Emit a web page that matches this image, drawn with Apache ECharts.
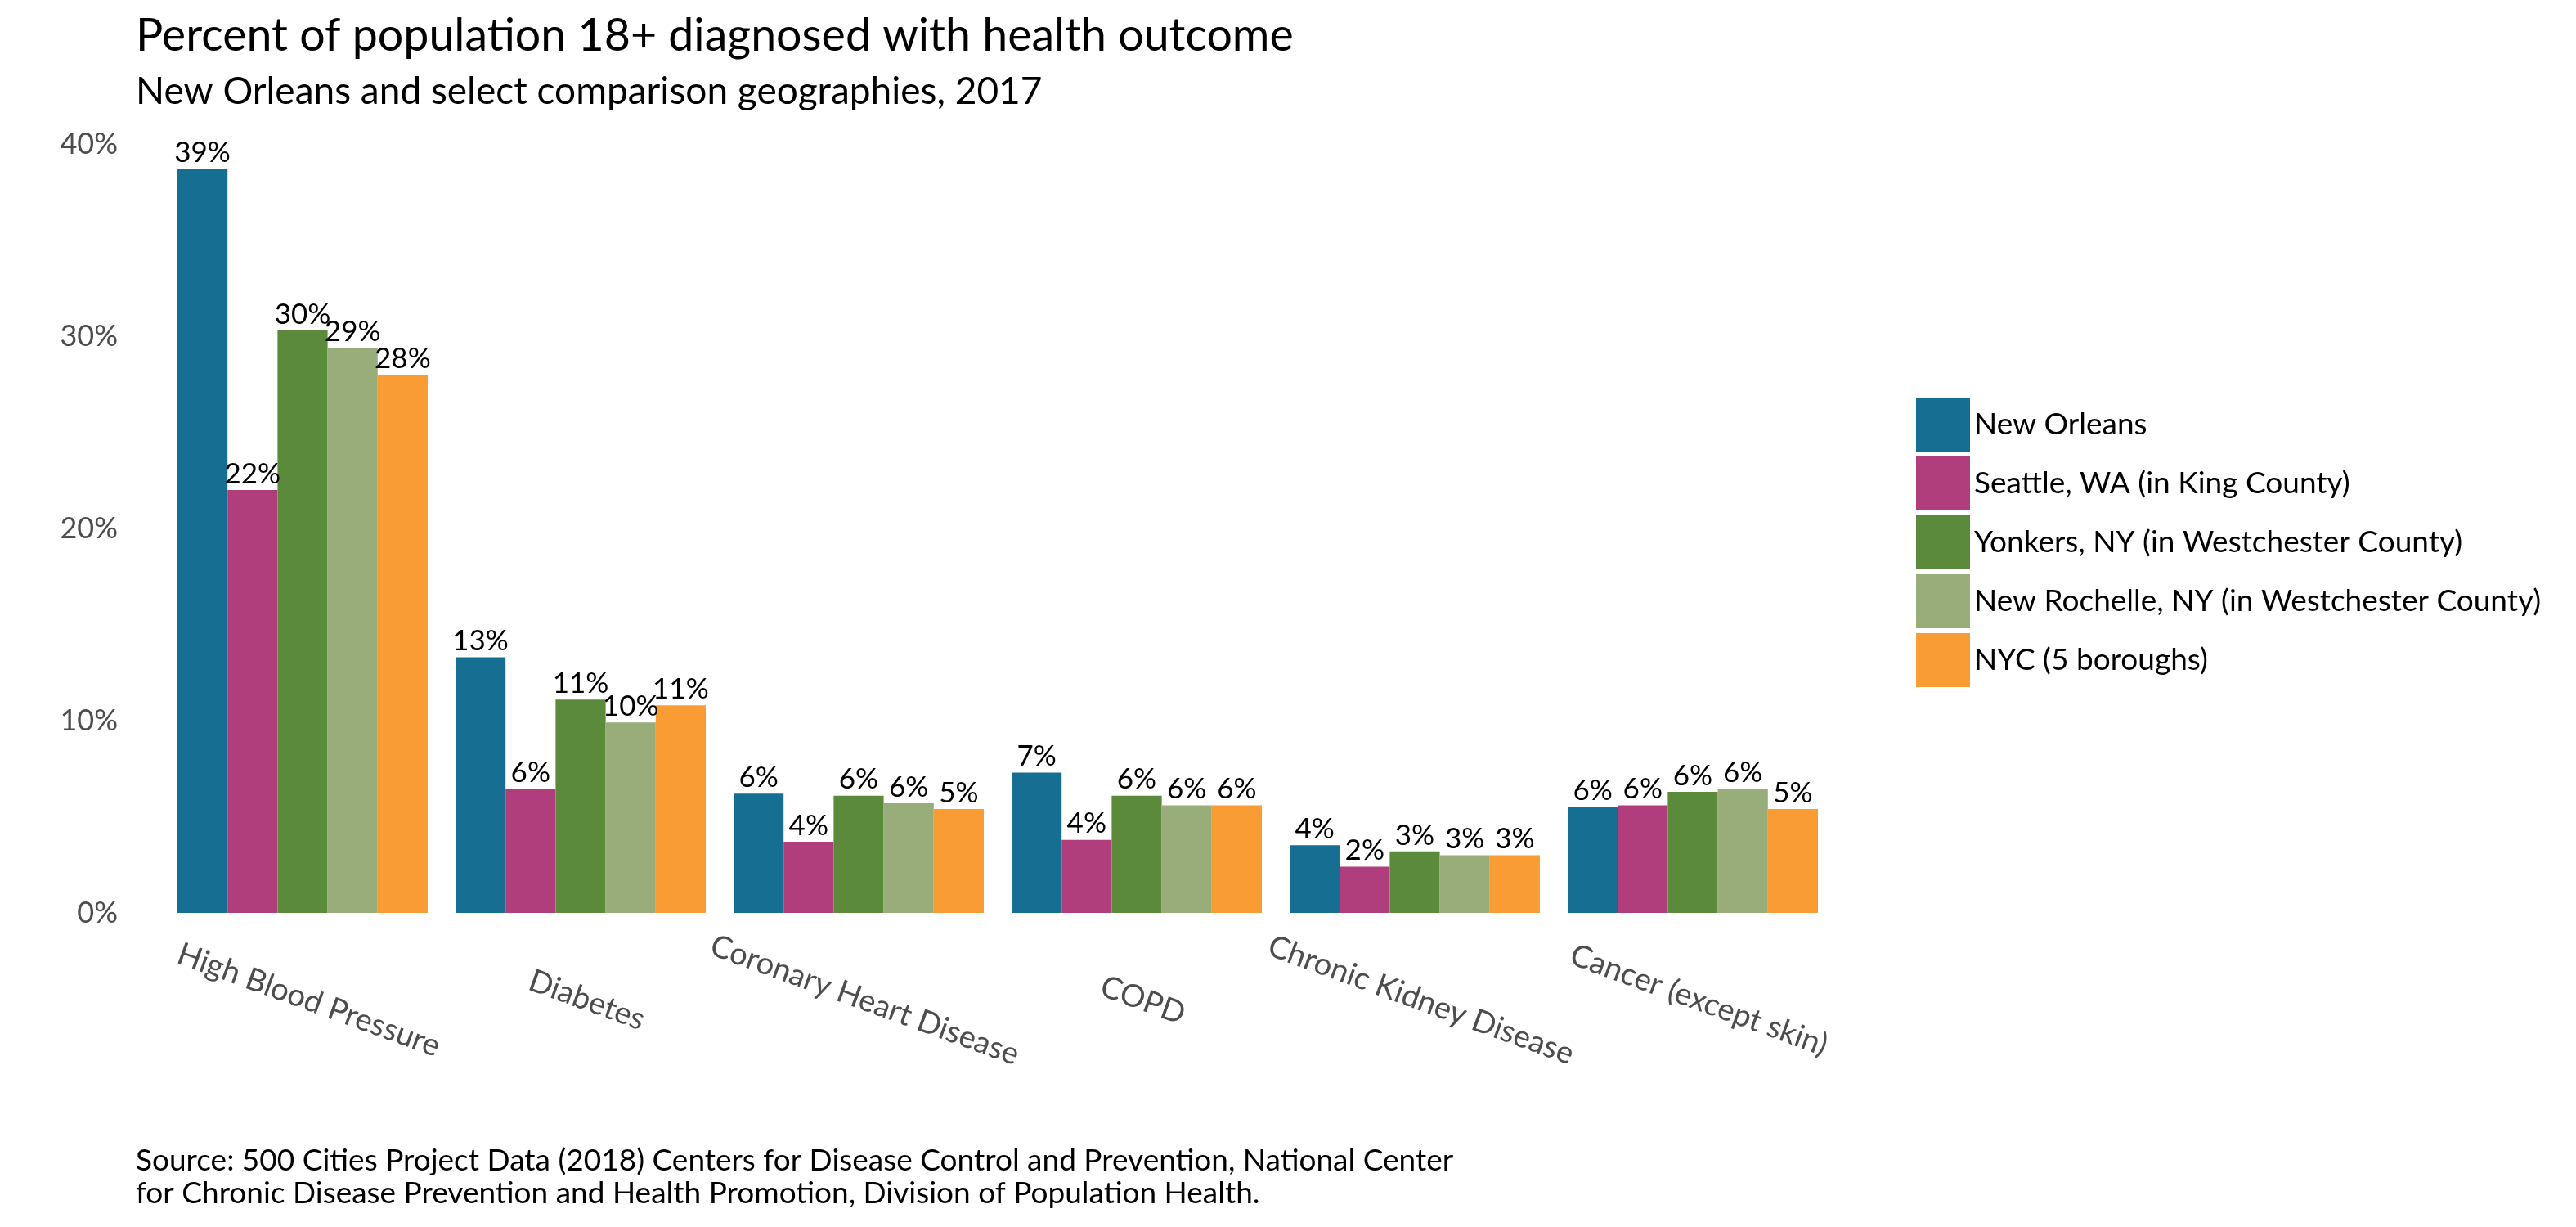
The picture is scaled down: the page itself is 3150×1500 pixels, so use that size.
<!DOCTYPE html>
<html>
<head>
<meta charset="utf-8">
<script src="https://cdn.jsdelivr.net/npm/echarts@6/dist/echarts.min.js"></script>
<style>
html,body{margin:0;padding:0;background:#fff;}
#chart{width:3150px;height:1500px;}
</style>
</head>
<body>
<div id="chart"></div>
<script>
const categories = ['High Blood Pressure','Diabetes','Coronary Heart Disease','COPD','Chronic Kidney Disease','Cancer (except skin)'];
const seriesNames = ['New Orleans','Seattle, WA (in King County)','Yonkers, NY (in Westchester County)','New Rochelle, NY (in Westchester County)','NYC (5 boroughs)'];
const newOrleans  = [38.7, 13.3, 6.2, 7.3, 3.52, 5.52];
const seattle     = [22.0, 6.45, 3.7, 3.8, 2.4, 5.6];
const yonkers     = [30.3, 11.1, 6.1, 6.1, 3.2, 6.3];
const newRochelle = [29.4, 9.9, 5.7, 5.6, 3.0, 6.45];
const nyc         = [28.0, 10.8, 5.4, 5.6, 3.0, 5.4];
const yTicks = [0, 10, 20, 30, 40];
const colors = ['#176E93','#B03E7C','#5C8A3B','#98AD7A','#F99C33'];

const FONT = 'Lato';
const values = [newOrleans, seattle, yonkers, newRochelle, nyc];

const chart = echarts.init(document.getElementById('chart'), null, {renderer:'canvas'});
chart.setOption({
  backgroundColor:'#ffffff',
  animation:false,
  textStyle:{fontFamily:FONT},
  title:[
    {text:'Percent of population 18+ diagnosed with health outcome', left:166, top:16, padding:0,
     textStyle:{fontFamily:FONT, fontSize:55.5, fontWeight:'normal', color:'#000'}},
    {text:'New Orleans and select comparison geographies, 2017', left:166, top:89, padding:0,
     textStyle:{fontFamily:FONT, fontSize:46, fontWeight:'normal', color:'#000'}},
    {text:'Source: 500 Cities Project Data (2018) Centers for Disease Control and Prevention, National Center\nfor Chronic Disease Prevention and Health Promotion, Division of Population Health.',
     left:166, top:1399, padding:0,
     textStyle:{fontFamily:FONT, fontSize:37, lineHeight:40, fontWeight:'normal', color:'#000'}}
  ],
  legend:{
    orient:'vertical', left:2343, top:486, itemWidth:66, itemHeight:66, itemGap:6,
    icon:'rect', data:seriesNames, padding:0,
    textStyle:{fontFamily:FONT, fontSize:37, color:'#000'}
  },
  grid:{left:200, width:2040, top:176, height:940, containLabel:false},
  xAxis:{
    type:'category', data:categories,
    axisLine:{show:false}, axisTick:{show:false}, splitLine:{show:false},
    axisLabel:{interval:0, rotate:-20, align:'center', verticalAlign:'middle', margin:104,
      padding:[0,0,0,16],
      fontFamily:FONT, fontSize:38, color:'#4d4d4d'}
  },
  yAxis:{
    type:'value', min:yTicks[0], max:yTicks[yTicks.length-1], interval:10,
    axisLine:{show:false}, axisTick:{show:false}, splitLine:{show:false},
    axisLabel:{formatter:'{value}%', margin:56, fontFamily:FONT, fontSize:36, color:'#4d4d4d'}
  },
  series: seriesNames.map((n,i)=>({
    name:n, type:'bar', data:values[i], barGap:'0%', barCategoryGap:'10%',
    itemStyle:{color:colors[i]},
    label:{show:true, position:'top', distance:2, formatter:p=>Math.round(p.value)+'%',
      fontFamily:FONT, fontSize:35, color:'#000'}
  }))
});
</script>
</body>
</html>
